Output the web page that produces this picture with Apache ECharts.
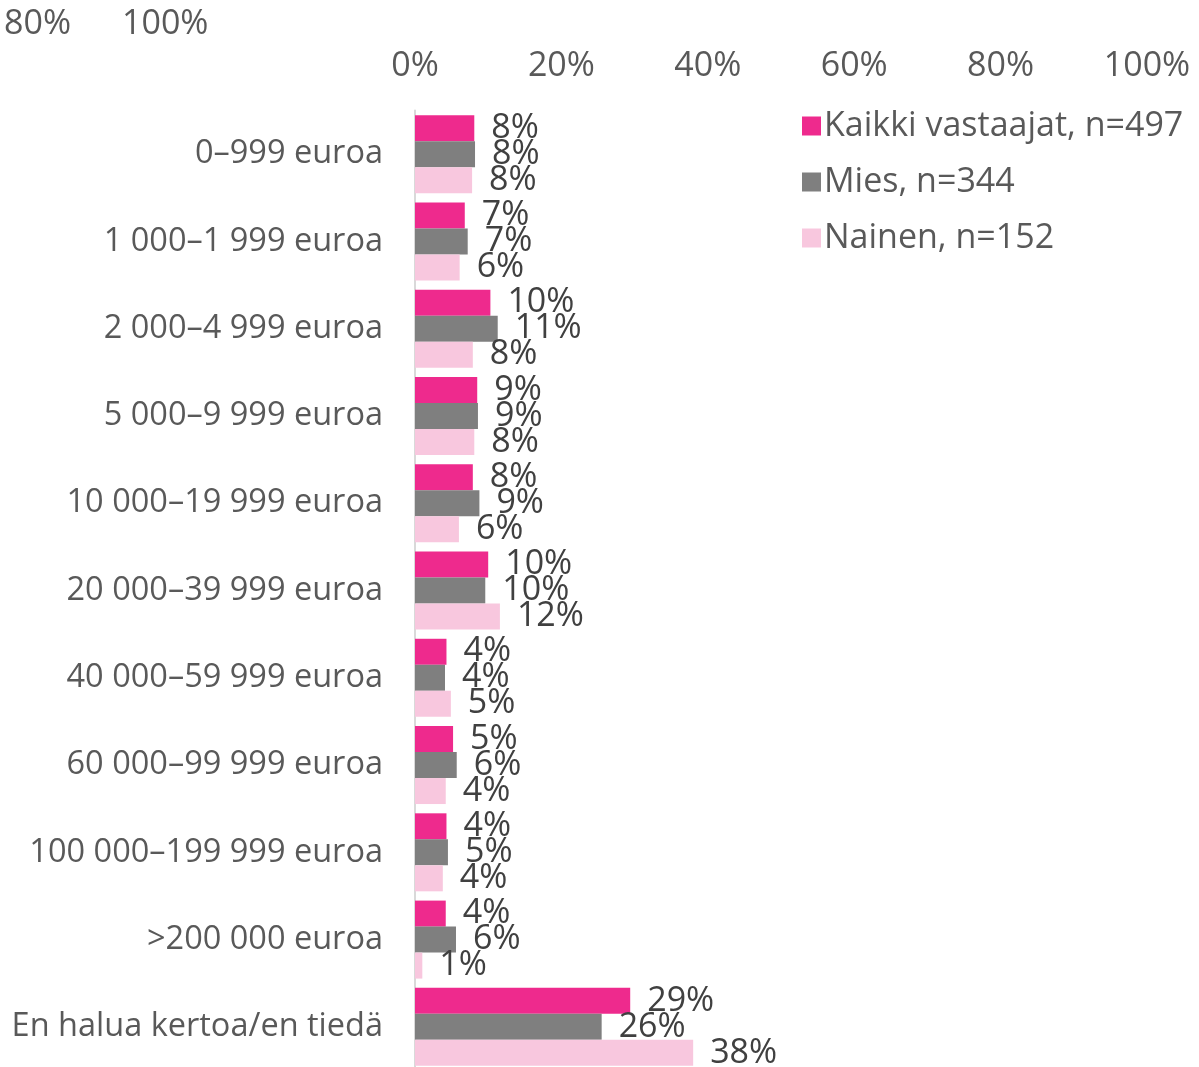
<!DOCTYPE html>
<html><head><meta charset="utf-8">
<script src="https://cdn.jsdelivr.net/npm/echarts@6/dist/echarts.min.js"></script>
<style>html,body{margin:0;padding:0;background:#fff}#c{width:1199px;height:1067px}</style>
</head><body><div id="c"></div>
<script>
const categories = ["0–999 euroa","1 000–1 999 euroa","2 000–4 999 euroa","5 000–9 999 euroa","10 000–19 999 euroa","20 000–39 999 euroa","40 000–59 999 euroa","60 000–99 999 euroa","100 000–199 999 euroa",">200 000 euroa","En halua kertoa/en tiedä"];
const seriesNames = ["Kaikki vastaajat, n=497","Mies, n=344","Nainen, n=152"];
const kaikki = [8.1, 6.8, 10.3, 8.5, 7.9, 10.0, 4.3, 5.2, 4.3, 4.2, 29.4];
const mies   = [8.2, 7.2, 11.3, 8.6, 8.8, 9.6, 4.1, 5.7, 4.5, 5.6, 25.5];
const nainen = [7.8, 6.1, 7.9, 8.1, 6.0, 11.6, 4.9, 4.2, 3.8, 1.0, 38.0];
const xTicks = [0,20,40,60,80,100];
const strayLabels = ["80%","100%"];
const colors = ["#EE2A8D","#7F7F7F","#F8C7DE"];
const FONT = "Open Sans";

const chart = echarts.init(document.getElementById('c'));
const mk = (name, data, i) => ({
  name, type:'bar', data, barWidth:26, barGap:'0%',
  itemStyle:{color:colors[i]},
  label:{show:true, position:'right', distance:17, fontFamily:FONT, fontSize:34, color:'#404040',
    formatter:p=>Math.round(p.value)+'%'}
});
chart.setOption({
  animation:false,
  textStyle:{fontFamily:FONT},
  graphic:[
    {type:'text', left:4, top:7, style:{text:strayLabels[0], font:'34px "Open Sans"', fill:'#595959'}},
    {type:'text', left:122, top:7, style:{text:strayLabels[1], font:'34px "Open Sans"', fill:'#595959'}}
  ],
  legend:{orient:'vertical', left:797, top:104, itemWidth:19, itemHeight:19, itemGap:22,
    icon:'rect', textStyle:{fontFamily:FONT, fontSize:34, color:'#595959', padding:[0,0,0,-2]},
    data:seriesNames},
  grid:{left:415, right:52, top:110.5, height:960, containLabel:false, outerBoundsMode:'none'},
  xAxis:{type:'value', position:'top', min:0, max:100, interval:20,
    splitLine:{show:false}, axisLine:{show:false}, axisTick:{show:false},
    axisLabel:{margin:27, fontFamily:FONT, fontSize:34, color:'#595959', formatter:v=>v+'%'}},
  yAxis:{type:'category', data:categories, inverse:true,
    axisLine:{show:true, lineStyle:{color:'#D9D9D9', width:2}}, axisTick:{show:false},
    axisLabel:{margin:32, fontFamily:FONT, fontSize:32.5, color:'#595959'}},
  series:[mk(seriesNames[0],kaikki,0), mk(seriesNames[1],mies,1), mk(seriesNames[2],nainen,2)]
});
</script></body></html>
